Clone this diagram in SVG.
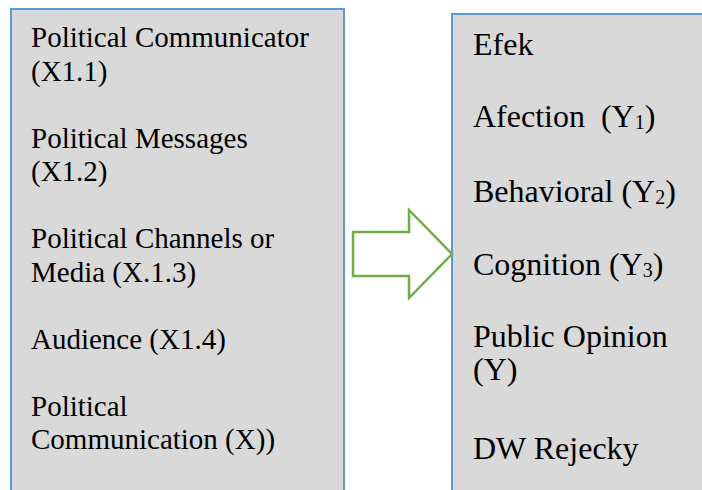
<svg xmlns="http://www.w3.org/2000/svg" width="702" height="490" viewBox="0 0 702 490">
<style>
.box{fill:#D9D9D9;stroke:#5B9BD5;stroke-width:2}
text{font-family:'Liberation Serif','Times New Roman',Times,Tinos,'DejaVu Serif',serif;fill:#000}
.l{font-size:29px}
.r{font-size:32px}
.sub{font-size:20px}
.arrow{fill:#FFFFFF;stroke:#70AD47;stroke-width:2.5;stroke-linejoin:miter}
</style>
<rect width="702" height="490" fill="#FFFFFF"/>
<g id="node-x">
<rect class="box" x="11" y="9" width="333" height="500"/>
<text class="l" x="31" y="47">Political Communicator</text>
<text class="l" x="31" y="80.5">(X1.1)</text>
<text class="l" x="31" y="147.5">Political Messages</text>
<text class="l" x="31" y="181">(X1.2)</text>
<text class="l" x="31" y="248">Political Channels or</text>
<text class="l" x="31" y="281.5">Media (X.1.3)</text>
<text class="l" x="31" y="348.5">Audience (X1.4)</text>
<text class="l" x="31" y="415.5">Political</text>
<text class="l" x="31" y="449">Communication (X))</text>
</g>
<g id="node-y">
<rect class="box" x="452" y="14" width="260" height="500"/>
<text class="r" x="473" y="55">Efek</text>
<text class="r" x="473" y="127">Afection&#160;&#160;(Y<tspan class="sub" dy="2">1</tspan><tspan dy="-2">)</tspan></text>
<text class="r" x="473" y="202">Behavioral (Y<tspan class="sub" dy="2">2</tspan><tspan dy="-2">)</tspan></text>
<text class="r" x="473" y="275">Cognition (Y<tspan class="sub" dy="2">3</tspan><tspan dy="-2">)</tspan></text>
<text class="r" x="473" y="347">Public Opinion</text>
<text class="r" x="473" y="380">(Y)</text>
<text class="r" x="473" y="459">DW Rejecky</text>
</g>
<g id="connectors">
<polygon class="arrow" points="353,232 409,232 409,210 452,254 409,298 409,276 353,276"/>
</g>
</svg>
